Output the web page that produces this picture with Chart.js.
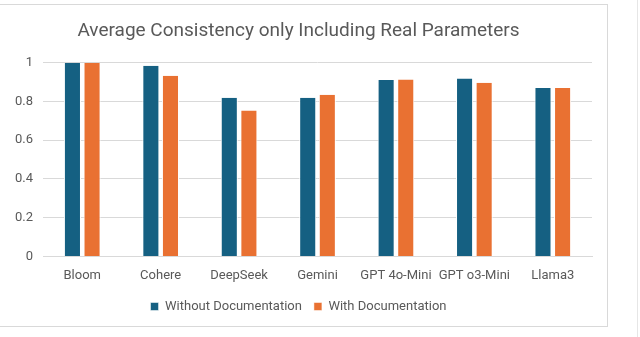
<!DOCTYPE html>
<html>
<head>
<meta charset="utf-8">
<script src="https://cdn.jsdelivr.net/npm/chart.js@4.4.1/dist/chart.umd.min.js"></script>
<style>
  body { margin: 0; background: #fff; width: 640px; height: 337px; overflow: hidden; position: relative; }
  #box { position: absolute; left: 0; top: 4px; width: 607px; height: 321px; border: 1px solid #d9d9d9; border-left: none; }
  #edge { position: absolute; left: 637px; top: 0; width: 1px; height: 337px; background: #e6e6e6; }
</style>
</head>
<body>
<div id="box"><canvas id="consistency"></canvas></div>
<div id="edge"></div>
<script>
var models = ["Bloom", "Cohere", "DeepSeek", "Gemini", "GPT 4o-Mini", "GPT o3-Mini", "Llama3"];
var withoutDocs = [1.0, 0.985, 0.82, 0.82, 0.911, 0.919, 0.87];
var withDocs = [1.0, 0.933, 0.753, 0.835, 0.914, 0.897, 0.87];
var yTicks = [0, 0.2, 0.4, 0.6, 0.8, 1];

var font = "'Roboto', sans-serif";

var ctx = document.getElementById("consistency").getContext("2d");
ctx.canvas.width = 607;
ctx.canvas.height = 321;

window.consistencyChart = new Chart(ctx, {
    type: 'bar',
    data: {
        labels: models,
        datasets: [{
            label: 'Without Documentation',
            data: withoutDocs,
            backgroundColor: '#156082',
            borderColor: '#ffffff',
            borderWidth: { left: 1, right: 1, top: 0, bottom: 0 }
        }, {
            label: 'With Documentation',
            data: withDocs,
            backgroundColor: '#E97132',
            borderColor: '#ffffff',
            borderWidth: { left: 1, right: 1, top: 0, bottom: 0 }
        }]
    },
    options: {
        responsive: false,
        animation: false,
        categoryPercentage: 0.5,
        barPercentage: 0.87,
        layout: {
            padding: { left: 5, right: 15, top: 8, bottom: 3 }
        },
        plugins: {
            title: {
                display: true,
                text: 'Average Consistency only Including Real Parameters',
                color: '#595959',
                font: { family: font, size: 19, weight: 'normal' },
                padding: { top: 7, bottom: 20 }
            },
            legend: {
                position: 'bottom',
                labels: {
                    color: '#595959',
                    font: { family: font, size: 13 },
                    boxWidth: 8,
                    boxHeight: 8,
                    padding: 12
                }
            },
            tooltip: { enabled: false }
        },
        scales: {
            x: {
                grid: { display: false },
                border: { color: '#d9d9d9' },
                ticks: {
                    color: '#595959',
                    font: { family: font, size: 13 },
                    maxRotation: 0,
                    padding: 4
                }
            },
            y: {
                min: 0,
                max: 1,
                afterBuildTicks: function(axis) {
                    axis.ticks = yTicks.map(function(v) { return { value: v }; });
                },
                grid: { color: '#d9d9d9', lineWidth: 1, drawTicks: false },
                border: { display: false },
                ticks: {
                    color: '#595959',
                    font: { family: font, size: 13 },
                    padding: 10,
                    callback: function(v) { return String(v); }
                }
            }
        }
    }
});
</script>
</body>
</html>
